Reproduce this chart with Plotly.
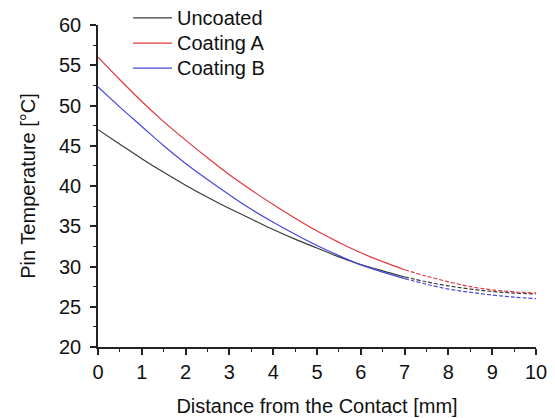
import plotly.graph_objects as go

# Distance from the contact (mm) and pin temperature (°C) per pin variant
distance_mm = [0, 0.5, 1, 1.5, 2, 2.5, 3, 3.5, 4, 4.5, 5,
               5.5, 6, 6.5, 7, 7.5, 8, 8.5, 9, 9.5, 10]
uncoated = [47.0, 45.2, 43.4, 41.7, 40.1, 38.6, 37.2, 35.9, 34.6, 33.4, 32.3,
            31.2, 30.25, 29.45, 28.7, 28.1, 27.6, 27.2, 26.9, 26.7, 26.6]
coating_a = [56.0, 53.2, 50.5, 48.0, 45.7, 43.5, 41.4, 39.5, 37.7, 36.0, 34.4,
             33.0, 31.7, 30.6, 29.6, 28.8, 28.1, 27.5, 27.1, 26.85, 26.7]
coating_b = [52.3, 49.8, 47.4, 45.0, 42.8, 40.8, 38.9, 37.1, 35.5, 34.0, 32.6,
             31.35, 30.2, 29.3, 28.5, 27.8, 27.2, 26.8, 26.45, 26.2, 26.0]

series_names = ["Uncoated", "Coating A", "Coating B"]
series_values = [uncoated, coating_a, coating_b]
series_colors = ["#3a3a3a", "#e0393e", "#4646dc"]

# measured part is drawn solid, the tail beyond this distance dashed
tail_start_mm = 7

FONT = "Arial, Liberation Sans, sans-serif"
FS = 20

fig = go.Figure()
split = distance_mm.index(tail_start_mm)
for name, vals, col in zip(series_names, series_values, series_colors):
    fig.add_trace(go.Scatter(
        x=distance_mm[:split + 1], y=vals[:split + 1], mode="lines", name=name,
        line=dict(color=col, width=1.2, shape="spline"), showlegend=False,
    ))
    fig.add_trace(go.Scatter(
        x=distance_mm[split:], y=vals[split:], mode="lines", name=name,
        showlegend=False,
        line=dict(color=col, width=1.2, shape="spline", dash="4px,2px"),
    ))

# legend drawn as key lines + labels in the upper left of the plot area
key_x0, key_x1, text_x = 0.080, 0.169, 0.176
key_y = [1.022, 0.944, 0.866]
for name, col, ky in zip(series_names, series_colors, key_y):
    fig.add_shape(type="line", xref="paper", yref="paper",
                  x0=key_x0, x1=key_x1, y0=ky, y1=ky,
                  line=dict(color=col, width=1.3))
    fig.add_annotation(xref="paper", yref="paper", x=text_x, y=ky,
                       text=name, showarrow=False, xanchor="left", yanchor="middle",
                       font=dict(family=FONT, size=FS, color="#111"))

axis_common = dict(
    showgrid=False, zeroline=False, showline=True, linecolor="#222",
    linewidth=1.5, ticks="outside", ticklen=6, tickwidth=1.5, tickcolor="#222",
    tickfont=dict(family=FONT, size=FS, color="#111"),
    title_font=dict(family=FONT, size=FS, color="#111"),
    mirror=False, automargin=False,
)

fig.update_xaxes(
    **axis_common, range=[0, 10], dtick=1, tick0=0,
    minor=dict(ticks="outside", ticklen=3.5, tickwidth=1.2, tickcolor="#222", dtick=0.5),
    title_text="Distance from the Contact [mm]", title_standoff=17,
)
fig.update_yaxes(
    **axis_common, range=[20, 60], dtick=5, tick0=20,
    minor=dict(ticks="outside", ticklen=3.5, tickwidth=1.2, tickcolor="#222", dtick=2.5),
    title_text="Pin Temperature [°C]", title_standoff=18, ticklabelstandoff=5,
)

fig.update_layout(
    width=555, height=418,
    margin=dict(l=98, r=19, t=25, b=71),
    paper_bgcolor="white", plot_bgcolor="white",
    font=dict(family=FONT, size=FS, color="#111"),
    showlegend=False,
)

fig.write_html("out.html")
